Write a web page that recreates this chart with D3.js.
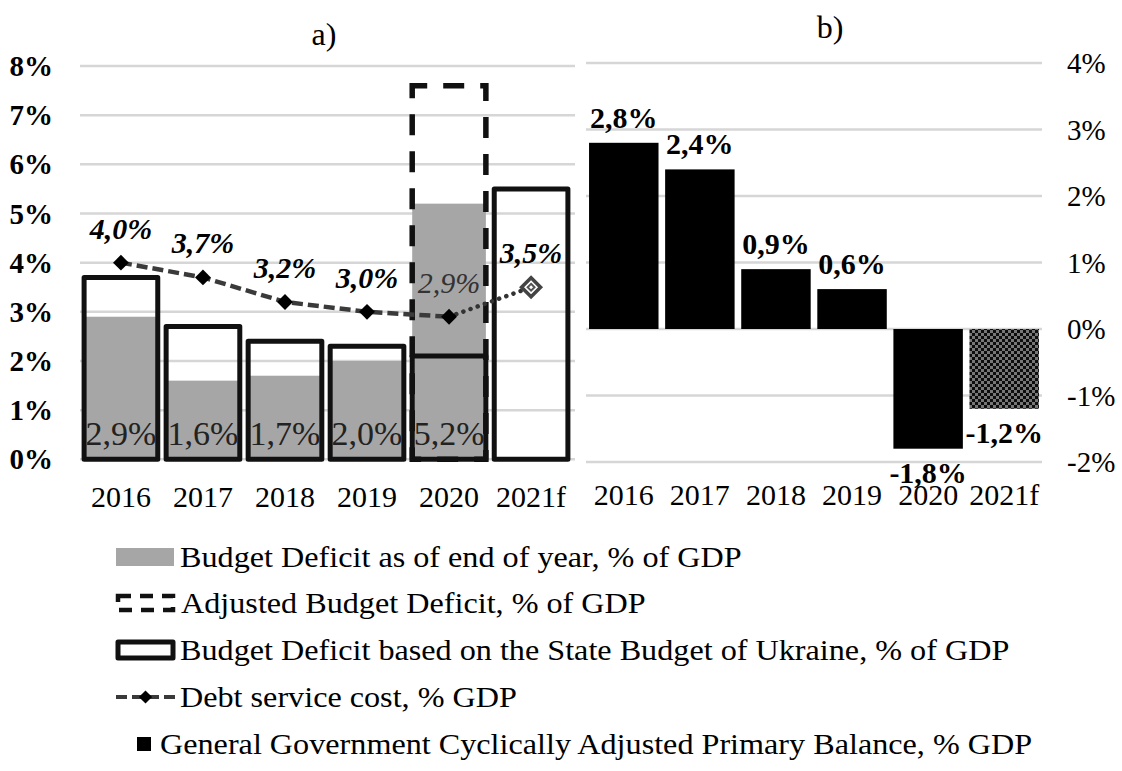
<!DOCTYPE html>
<html>
<head>
<meta charset="utf-8">
<script src="https://cdn.jsdelivr.net/npm/d3@7"></script>
<style>
  html, body { margin: 0; padding: 0; background: #fff; }
  svg { display: block; font-family: "Liberation Serif", "Times New Roman", serif; }
</style>
</head>
<body>
<svg id="chart" width="1122" height="771"></svg>
<script>
// ---------- data ----------
const years = ["2016", "2017", "2018", "2019", "2020", "2021f"];
const deficitEndOfYear = [2.9, 1.6, 1.7, 2.0, 5.2, null];
const adjustedDeficit = [null, null, null, null, 7.6, null];
const stateBudgetDeficit = [3.7, 2.7, 2.4, 2.3, 2.1, 5.5];
const debtServiceCost = [4.0, 3.7, 3.2, 3.0, 2.9, 3.5];
const primaryBalance = [2.8, 2.4, 0.9, 0.6, -1.8, -1.2];
const leftTicks = [0, 1, 2, 3, 4, 5, 6, 7, 8];
const rightTicks = [-2, -1, 0, 1, 2, 3, 4];
const legendLabels = [
  "Budget Deficit as of end of year, % of GDP",
  "Adjusted Budget Deficit, % of GDP",
  "Budget Deficit based on the State Budget of Ukraine, % of GDP",
  "Debt service cost, % GDP",
  "General Government Cyclically Adjusted Primary Balance, % GDP"
];
const titles = ["a)", "b)"];

const fmt = v => d3.format(".1f")(v).replace("\u2212", "-").replace(".", ",") + "%";
const svg = d3.select("#chart");
const GRID = "#d6d6d6", GRAY = "#a6a6a6";

// pattern for forecast bar
const defs = svg.append("defs");
const pat = defs.append("pattern").attr("id", "checker").attr("width", 6).attr("height", 6)
  .attr("patternUnits", "userSpaceOnUse");
pat.append("rect").attr("width", 6).attr("height", 6).attr("fill", "#0d0d0d");
pat.append("rect").attr("width", 3).attr("height", 3).attr("fill", "#777");
pat.append("rect").attr("x", 3).attr("y", 3).attr("width", 3).attr("height", 3).attr("fill", "#777");

// ---------- LEFT CHART ----------
const xL = d3.scaleBand().domain(years).range([80, 572]).paddingInner(0.102).paddingOuter(0.05);
const yL = d3.scaleLinear().domain([0, 8]).range([459.3, 66]);
const gL = svg.append("g");

gL.selectAll("line.grid").data(leftTicks).join("line")
  .attr("x1", 80).attr("x2", 575)
  .attr("y1", d => yL(d)).attr("y2", d => yL(d))
  .attr("stroke", GRID).attr("stroke-width", 2.5);

gL.selectAll("text.ytick").data(leftTicks).join("text")
  .attr("x", 53).attr("y", d => yL(d)).attr("dy", "0.35em")
  .attr("text-anchor", "end").attr("font-size", 29).attr("font-weight", "bold")
  .text(d => d + "%");

// gray bars (end-of-year deficit)
const grayData = years.map((y, i) => ({ y, v: deficitEndOfYear[i] })).filter(d => d.v != null);
gL.selectAll("rect.gray").data(grayData).join("rect")
  .attr("x", d => xL(d.y)).attr("width", xL.bandwidth())
  .attr("y", d => yL(d.v)).attr("height", d => yL(0) - yL(d.v))
  .attr("fill", GRAY);

// adjusted deficit dashed
const adjData = years.map((y, i) => ({ y, v: adjustedDeficit[i] })).filter(d => d.v != null);
gL.selectAll("rect.adj").data(adjData).join("rect")
  .attr("x", d => xL(d.y)).attr("width", xL.bandwidth())
  .attr("y", d => yL(d.v)).attr("height", d => yL(0) - yL(d.v))
  .attr("fill", "none").attr("stroke", "#111").attr("stroke-width", 5.5)
  .attr("stroke-dasharray", "21,16").attr("stroke-dashoffset", 6);

// state budget outlines
const stData = years.map((y, i) => ({ y, v: stateBudgetDeficit[i] }));
gL.selectAll("rect.st").data(stData).join("rect")
  .attr("x", d => xL(d.y)).attr("width", xL.bandwidth())
  .attr("y", d => yL(d.v)).attr("height", d => yL(0) - yL(d.v))
  .attr("fill", "none").attr("stroke", "#111").attr("stroke-width", 5)
  .attr("stroke-linejoin", "round");

// gray bar labels at bottom
gL.selectAll("text.glab").data(grayData).join("text")
  .attr("x", d => xL(d.y) + xL.bandwidth() / 2).attr("y", yL(0) - 14)
  .attr("text-anchor", "middle").attr("font-size", 34).attr("fill", "#222")
  .text(d => fmt(d.v));

// debt service line
const debt = years.map((y, i) => ({ y, v: debtServiceCost[i], cx: xL(y) + xL.bandwidth() / 2 }));
const line = d3.line().x(d => d.cx).y(d => yL(d.v));
gL.append("path").datum(debt.slice(0, 5)).attr("d", line)
  .attr("fill", "none").attr("stroke", "#3a3a3a").attr("stroke-width", 4.5)
  .attr("stroke-dasharray", "11,5");
gL.append("path").datum(debt.slice(4, 6)).attr("d", line)
  .attr("fill", "none").attr("stroke", "#333").attr("stroke-width", 4.5)
  .attr("stroke-dasharray", "0.1,7.5").attr("stroke-linecap", "round");
const diamond = d3.symbol().type(d3.symbolDiamond2);
gL.selectAll("path.mk").data(debt.slice(0, 5)).join("path")
  .attr("transform", d => `translate(${d.cx},${yL(d.v)})`)
  .attr("d", diamond.size(160)()).attr("fill", "#000");
const last = debt[5];
gL.append("path").attr("transform", `translate(${last.cx},${yL(last.v)})`)
  .attr("d", diamond.size(230)()).attr("fill", "#fff").attr("stroke", "#444").attr("stroke-width", 3.5);
gL.append("path").attr("transform", `translate(${last.cx},${yL(last.v)})`)
  .attr("d", diamond.size(30)()).attr("fill", "none").attr("stroke", "#555").attr("stroke-width", 2);

gL.selectAll("text.dlab").data(debt).join("text")
  .attr("x", d => d.cx).attr("y", d => yL(d.v) - 24)
  .attr("text-anchor", "middle").attr("font-size", 30)
  .attr("font-style", "italic")
  .attr("font-weight", (d, i) => i === 4 ? "normal" : "bold")
  .attr("fill", (d, i) => i === 4 ? "#333" : "#000")
  .text(d => fmt(d.v));

gL.selectAll("text.xlab").data(years).join("text")
  .attr("x", d => xL(d) + xL.bandwidth() / 2).attr("y", 507)
  .attr("text-anchor", "middle").attr("font-size", 30).text(d => d);

gL.append("text").attr("x", 324).attr("y", 45).attr("text-anchor", "middle")
  .attr("font-size", 32).text(titles[0]);

// ---------- RIGHT CHART ----------
const xR = d3.scaleBand().domain(years).range([586, 1042]).paddingInner(0.087).paddingOuter(0.04);
const yR = d3.scaleLinear().domain([-2, 4]).range([462, 63]);
const gR = svg.append("g");

gR.selectAll("line.grid").data(rightTicks).join("line")
  .attr("x1", 586).attr("x2", 1042)
  .attr("y1", d => yR(d)).attr("y2", d => yR(d))
  .attr("stroke", GRID).attr("stroke-width", 2.5);

gR.selectAll("text.ytick").data(rightTicks).join("text")
  .attr("x", 1067).attr("y", d => yR(d)).attr("dy", "0.35em")
  .attr("font-size", 29).text(d => d + "%");

const pb = years.map((y, i) => ({ y, v: primaryBalance[i], i }));
gR.selectAll("rect.pb").data(pb).join("rect")
  .attr("x", d => xR(d.y)).attr("width", xR.bandwidth())
  .attr("y", d => yR(Math.max(0, d.v))).attr("height", d => Math.abs(yR(d.v) - yR(0)))
  .attr("fill", d => d.y === "2021f" ? "url(#checker)" : "#000");

gR.selectAll("text.pblab").data(pb).join("text")
  .attr("x", d => xR(d.y) + xR.bandwidth() / 2)
  .attr("y", d => d.v >= 0 ? yR(d.v) - 15 : yR(d.v) + 34)
  .attr("text-anchor", "middle").attr("font-size", 30).attr("font-weight", "bold")
  .text(d => fmt(d.v));

gR.selectAll("text.xlab").data(years).join("text")
  .attr("x", d => xR(d) + xR.bandwidth() / 2).attr("y", 505)
  .attr("text-anchor", "middle").attr("font-size", 30).text(d => d);

gR.append("text").attr("x", 830).attr("y", 38).attr("text-anchor", "middle")
  .attr("font-size", 32).text(titles[1]);

// ---------- LEGEND ----------
const rowsY = [557, 603, 650, 697, 744];
const lg = svg.append("g");
// 1 gray
lg.append("rect").attr("x", 116).attr("y", rowsY[0] - 9).attr("width", 58).attr("height", 18).attr("fill", GRAY);
// 2 dashed
lg.append("rect").attr("x", 118).attr("y", rowsY[1] - 7).attr("width", 55).attr("height", 14)
  .attr("fill", "none").attr("stroke", "#111").attr("stroke-width", 4.5).attr("stroke-dasharray", "13,9");
// 3 outline
lg.append("rect").attr("x", 118).attr("y", rowsY[2] - 8).attr("width", 55).attr("height", 16)
  .attr("fill", "#fff").attr("stroke", "#111").attr("stroke-width", 5).attr("stroke-linejoin", "round");
// 4 line + diamond
lg.append("line").attr("x1", 116).attr("x2", 175).attr("y1", rowsY[3]).attr("y2", rowsY[3])
  .attr("stroke", "#3a3a3a").attr("stroke-width", 4).attr("stroke-dasharray", "11,5");
lg.append("path").attr("transform", `translate(145.5,${rowsY[3]})`).attr("d", diamond.size(110)()).attr("fill", "#000");
// 5 black square
lg.append("rect").attr("x", 137).attr("y", rowsY[4] - 7).attr("width", 14).attr("height", 14).attr("fill", "#000");

const lx = [180, 181, 180, 180, 160];
lg.selectAll("text.leg").data(legendLabels).join("text")
  .attr("transform", (d, i) => `translate(${lx[i]},${rowsY[i]}) scale(1.11,1)`)
  .attr("dy", "0.35em")
  .attr("font-size", 29).text(d => d);
</script>
</body>
</html>
